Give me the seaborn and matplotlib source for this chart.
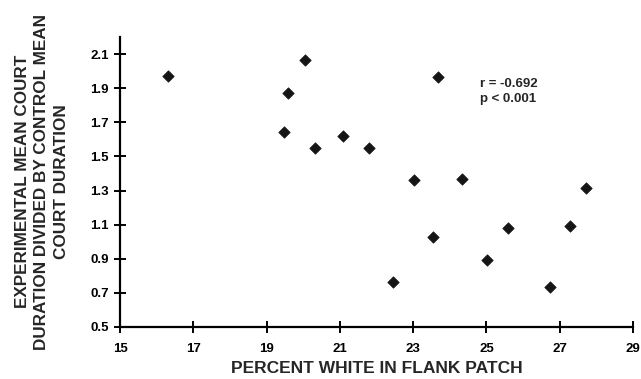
import matplotlib
matplotlib.use("Agg")
import matplotlib.pyplot as plt
import seaborn as sns
import pandas as pd

percent_white = [16.30, 19.48, 19.59, 20.06, 20.31, 21.09, 21.80, 22.45, 23.01,
                 23.55, 23.69, 24.33, 25.02, 25.60, 26.73, 27.27, 27.73]
court_ratio = [1.970, 1.641, 1.874, 2.069, 1.552, 1.623, 1.548, 0.763, 1.364,
               1.028, 1.966, 1.370, 0.891, 1.077, 0.732, 1.093, 1.315]
x_ticks = [15, 17, 19, 21, 23, 25, 27, 29]
y_ticks = [0.5, 0.7, 0.9, 1.1, 1.3, 1.5, 1.7, 1.9, 2.1]
annotation = "r = -0.692\np < 0.001"

df = pd.DataFrame({"x": percent_white, "y": court_ratio})

sns.set_style("ticks")
plt.rcParams["font.family"] = ["Liberation Sans", "DejaVu Sans"]
plt.rcParams["font.weight"] = "bold"

fig = plt.figure(figsize=(6.41, 3.79), dpi=100)
ax = fig.add_axes([120 / 641, 1 - 326.7 / 379, 513 / 641, (326.7 - 36.7) / 379])

sns.scatterplot(data=df, x="x", y="y", ax=ax, marker="D", s=34,
                color="#151515", edgecolor="#151515", linewidth=0.5)

ax.set_xlim(15, 29)
ax.set_ylim(0.5, 2.1 + 17.6 / 169.8)
ax.set_xticks(x_ticks)
ax.set_yticks(y_ticks)
ax.set_xticklabels([str(t) for t in x_ticks], fontsize=9.5, fontweight="bold")
ax.set_yticklabels([f"{t:.1f}" for t in y_ticks], fontsize=9.5, fontweight="bold")
ax.tick_params(direction="inout", length=8, width=1.4, colors="black")
ax.tick_params(axis="x", pad=8)
ax.tick_params(axis="y", pad=4)

for side in ["top", "right"]:
    ax.spines[side].set_visible(False)
for side in ["left", "bottom"]:
    ax.spines[side].set_linewidth(1.6)
    ax.spines[side].set_color("black")

ax.set_xlabel("PERCENT WHITE IN FLANK PATCH", fontsize=12.5, fontweight="bold")
ax.xaxis.set_label_coords(0.5, -0.118)
ax.set_ylabel("EXPERIMENTAL MEAN COURT\nDURATION DIVIDED BY CONTROL MEAN\nCOURT DURATION",
              fontsize=12.3, fontweight="bold", linespacing=1.4, multialignment="center")
ax.yaxis.set_label_coords(-0.099, 0.5)

ax.text(24.83, 1.882, annotation, fontsize=9.5, fontweight="bold",
        ha="left", va="center", linespacing=1.25)

fig.savefig("out.png", dpi=100)
